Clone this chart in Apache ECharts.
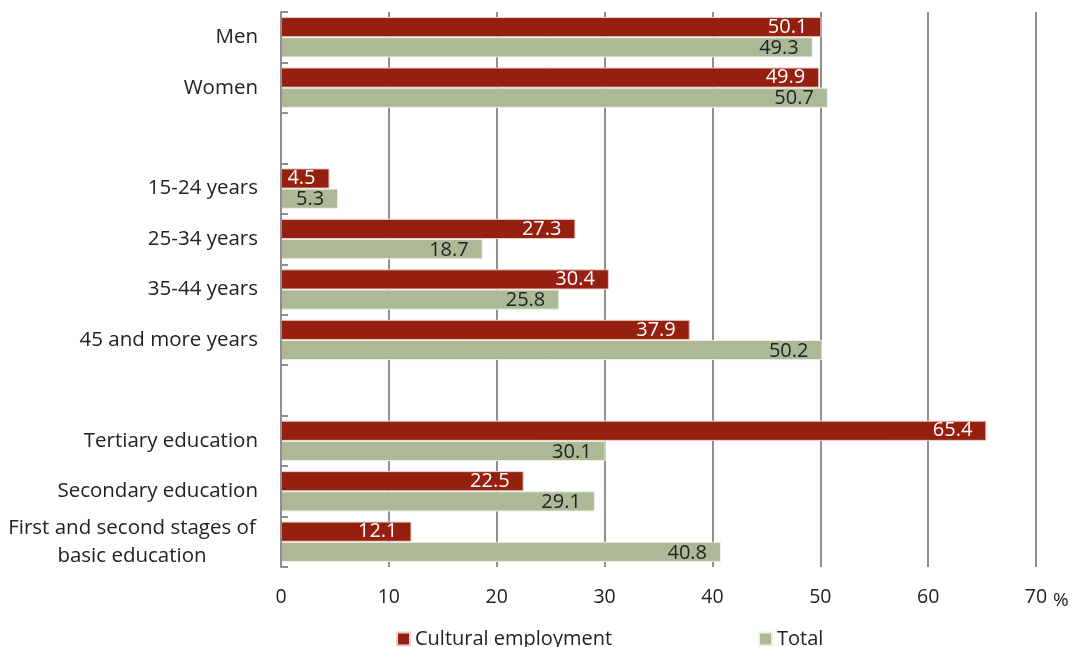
<!DOCTYPE html>
<html>
<head>
<meta charset="utf-8">
<script src="https://cdn.jsdelivr.net/npm/echarts@6/dist/echarts.min.js"></script>
<style>
  html, body { margin: 0; padding: 0; background: #fff; }
  #main { width: 1080px; height: 647px; }
</style>
</head>
<body>
<div id="main"></div>
<script>
// categories top to bottom, blanks are the spacer rows
const categories = ['Men', 'Women', '', '15-24 years', '25-34 years', '35-44 years', '45 and more years', '',
  'Tertiary education', 'Secondary education', 'First and second stages of basic education'];
const cultural = [50.1, 49.9, null, 4.5, 27.3, 30.4, 37.9, null, 65.4, 22.5, 12.1];
const total = [49.3, 50.7, null, 5.3, 18.7, 25.8, 50.2, null, 30.1, 29.1, 40.8];
const xTicks = [0, 10, 20, 30, 40, 50, 60, 70];

const font = 'Open Sans';
const dom = document.getElementById('main');
const myChart = echarts.init(dom);

myChart.setOption({
  animation: false,
  textStyle: { fontFamily: font },
  grid: { left: 281, right: 44, top: 12, bottom: 80, containLabel: false },
  legend: {
    bottom: -7,
    left: 391,
    itemWidth: 13,
    itemHeight: 13,
    itemGap: 146,
    itemTextGap: 5,
    icon: 'rect',
    textStyle: { fontSize: 20, color: '#222', fontFamily: font },
    data: ['Cultural employment', 'Total']
  },
  xAxis: {
    type: 'value',
    min: xTicks[0],
    max: xTicks[xTicks.length - 1],
    interval: 10,
    name: '%',
    nameLocation: 'end',
    nameGap: 10,
    nameTextStyle: { fontSize: 19, color: '#222', verticalAlign: 'top', padding: [24, 0, 0, 0] },
    axisLine: { show: false },
    axisTick: { show: false },
    axisLabel: { fontSize: 19.5, color: '#222', margin: 20 },
    splitLine: { lineStyle: { color: '#8f8f8f', width: 2 } }
  },
  yAxis: {
    type: 'category',
    inverse: true,
    data: categories,
    z: 5,
    axisLine: { show: true, lineStyle: { color: '#8f8f8f', width: 2 } },
    axisTick: { show: true, inside: true, alignWithLabel: false, interval: 0, length: 7, lineStyle: { color: '#8f8f8f', width: 2 } },
    axisLabel: {
      fontSize: 20.5,
      color: '#222',
      margin: 23,
      lineHeight: 28,
      interval: 0,
      formatter: (v) => {
        if (v.length > 30) {
          return '{w|First and second stages of}\n{w|basic education}';
        }
        return v;
      },
      rich: {
        w: { width: 252, align: 'center', fontSize: 20.5, color: '#222', lineHeight: 28, fontFamily: font }
      }
    }
  },
  series: [{
    name: 'Cultural employment',
    type: 'bar',
    data: cultural,
    barGap: '0%',
    barCategoryGap: '20%',
    itemStyle: { color: '#96200f', borderColor: '#e8d0cc', borderWidth: 1 },
    label: { show: true, position: 'insideRight', fontSize: 20, color: '#fff', offset: [-9, 0] }
  }, {
    name: 'Total',
    type: 'bar',
    data: total,
    itemStyle: { color: '#adb996', borderColor: '#eef0e8', borderWidth: 1 },
    label: { show: true, position: 'insideRight', fontSize: 20, color: '#222', offset: [-9, 1] }
  }]
});
</script>
</body>
</html>
